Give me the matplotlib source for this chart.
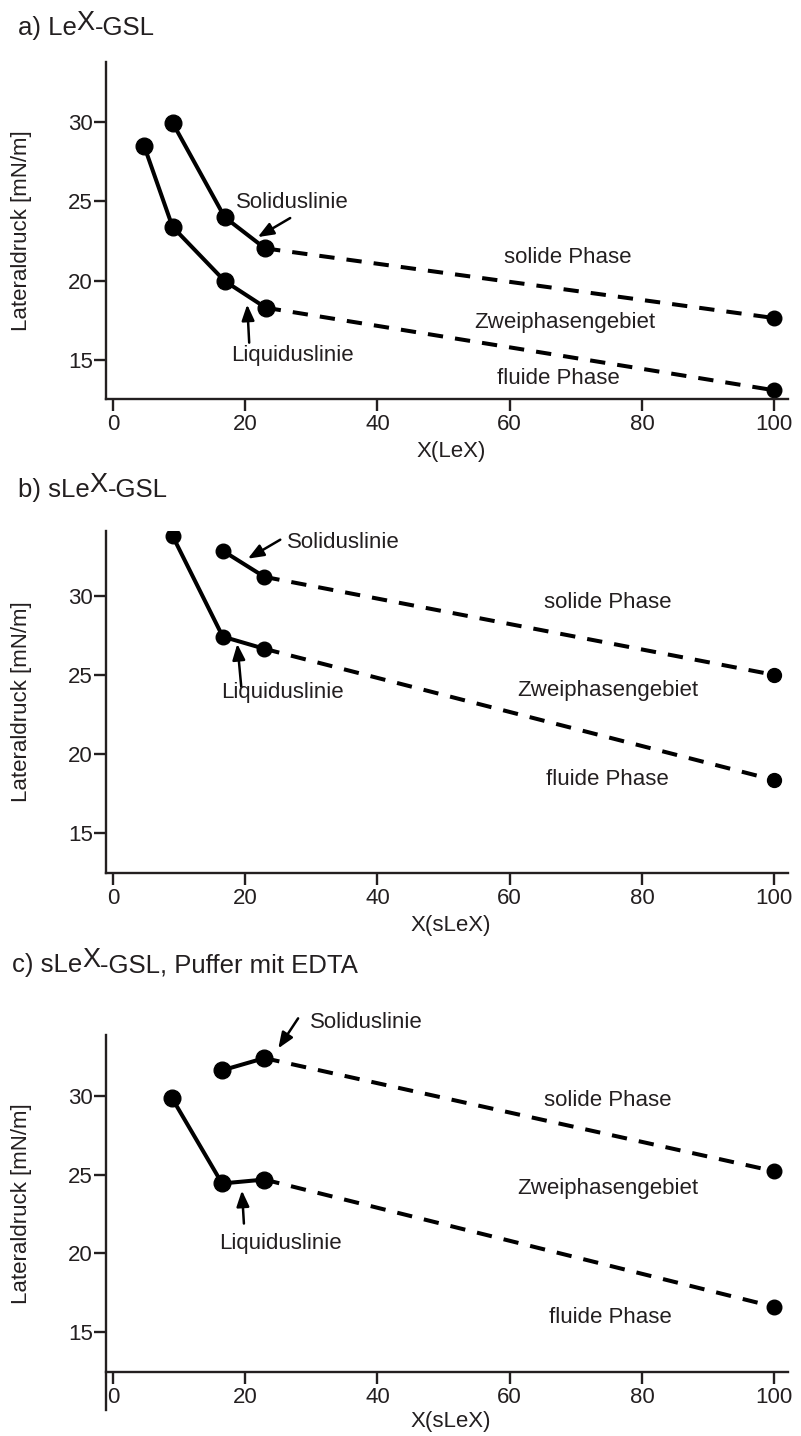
import matplotlib
matplotlib.use('Agg')
import matplotlib.pyplot as plt

plt.rcParams['font.family'] = ['Liberation Sans', 'DejaVu Sans']

TXT = '#231f20'
W, H = 801, 1436

# panel a) LeX-GSL
a_sol_x = [9.0, 16.9, 23.0]
a_sol_y = [29.96, 24.0, 22.04]
a_liq_x = [4.7, 9.0, 16.9, 23.1]
a_liq_y = [28.5, 23.4, 19.98, 18.3]
a_end_x = 100
a_sol_end = 17.65
a_liq_end = 13.1

# panel b) sLeX-GSL
b_sol_x = [16.6, 22.9]
b_sol_y = [32.85, 31.2]
b_liq_x = [9.0, 16.6, 22.9]
b_liq_y = [33.8, 27.42, 26.65]
b_end_x = 100
b_sol_end = 25.0
b_liq_end = 18.35

# panel c) sLeX-GSL, Puffer mit EDTA
c_sol_x = [16.5, 22.9]
c_sol_y = [31.65, 32.43]
c_liq_x = [8.9, 16.5, 22.9]
c_liq_y = [29.9, 24.45, 24.7]
c_end_x = 100
c_sol_end = 25.23
c_liq_end = 16.6

xticks = [0, 20, 40, 60, 80, 100]
yticks = [15, 20, 25, 30]

fig = plt.figure(figsize=(W / 100, H / 100), dpi=100)


def px_axes(left, right, top, bottom):
    return fig.add_axes([left / W, 1 - bottom / H, (right - left) / W, (bottom - top) / H])


def title(x_px, base_px, parts, size=18.5):
    r = fig.canvas.get_renderer()
    x = x_px
    for s, rise, fs in parts:
        t = fig.text(x / W, 1 - (base_px - rise) / H, s, fontsize=fs or size,
                     va='baseline', ha='left', color=TXT)
        x += t.get_window_extent(r).width


def setup(ax, ylim, xlabel, top_px, bottom_px, xlab_px):
    ax.set_xlim(-1.06, 102.1)
    ax.set_ylim(*ylim)
    for s in ['top', 'right']:
        ax.spines[s].set_visible(False)
    for s in ['left', 'bottom']:
        ax.spines[s].set_linewidth(1.7)
        ax.spines[s].set_color(TXT)
    ax.set_xticks(xticks)
    ax.set_yticks(yticks)
    ax.tick_params(axis='both', direction='out', length=8.5, width=1.7,
                   color=TXT, labelcolor=TXT, labelsize=16)
    ax.tick_params(axis='y', pad=0.8)
    ax.tick_params(axis='x', pad=2)
    ax.set_ylabel('Lateraldruck [mN/m]', fontsize=16, color=TXT, va='center')
    ax.yaxis.set_label_coords((22 - 106) / 682, 0.5)
    ax.set_xlabel(xlabel, fontsize=16, color=TXT, va='center')
    ax.xaxis.set_label_coords(0.506, -(xlab_px - bottom_px) / (bottom_px - top_px))


def draw(ax, sx, sy, lx, ly, ex, se, le, ms, ms_end):
    kw = dict(color='black', lw=2.9, marker='o', ms=ms, solid_capstyle='round')
    ax.plot(sx, sy, **kw)
    ax.plot(lx, ly, **kw)
    dkw = dict(color='black', lw=2.9, dashes=(3.8, 3.0))
    ax.plot([sx[-1], ex], [sy[-1], se], **dkw)
    ax.plot([lx[-1], ex], [ly[-1], le], **dkw)
    ax.plot([ex, ex], [se, le], ls='none', marker='o', ms=ms_end, color='black')


def arrow(ax, tip, tail):
    ax.annotate('', xy=tip, xytext=tail,
                arrowprops=dict(arrowstyle='-|>,head_length=0.95,head_width=0.38',
                                lw=1.8, color='black', shrinkA=0, shrinkB=0))


def label(ax, x, y, s, ha='center'):
    ax.text(x, y, s, fontsize=16, color=TXT, ha=ha, va='center')


# ---- a
ax = px_axes(106, 788, 62, 399)
setup(ax, (12.55, 33.78), 'X(LeX)', 62, 399, 452)
draw(ax, a_sol_x, a_sol_y, a_liq_x, a_liq_y, a_end_x, a_sol_end, a_liq_end, 12, 10.5)
arrow(ax, (21.9, 22.75), (26.8, 23.95))
arrow(ax, (20.3, 18.5), (20.6, 16.1))
label(ax, 27.1, 24.9, 'Soliduslinie')
label(ax, 27.1, 15.3, 'Liquiduslinie')
label(ax, 68.8, 21.45, 'solide Phase')
label(ax, 68.3, 17.35, 'Zweiphasengebiet')
label(ax, 67.3, 13.85, 'fluide Phase')
title(18, 35, [('a) Le', 0, None), ('X', 5, 19.5), ('-GSL', 0, None)])

# ---- b
ax = px_axes(106, 788, 531, 873)
setup(ax, (12.47, 34.1), 'X(sLeX)', 531, 873, 925)
draw(ax, b_sol_x, b_sol_y, b_liq_x, b_liq_y, b_end_x, b_sol_end, b_liq_end, 10.5, 10)
arrow(ax, (20.4, 32.35), (25.3, 33.55))
arrow(ax, (18.8, 26.96), (19.4, 24.25))
label(ax, 26.3, 33.4, 'Soliduslinie', ha='left')
label(ax, 25.7, 23.86, 'Liquiduslinie')
label(ax, 74.8, 29.6, 'solide Phase')
label(ax, 74.8, 24.0, 'Zweiphasengebiet')
label(ax, 74.8, 18.4, 'fluide Phase')
title(18, 497, [('b) sLe', 0, None), ('X', 5, 19.5), ('-GSL', 0, None)])

# ---- c
ax = px_axes(106, 788, 1035, 1372)
setup(ax, (12.45, 33.9), 'X(sLeX)', 1035, 1372, 1422)
ax.spines['left'].set_bounds(10.04, 33.9)
draw(ax, c_sol_x, c_sol_y, c_liq_x, c_liq_y, c_end_x, c_sol_end, c_liq_end, 12, 10.5)
arrow(ax, (25.0, 33.05), (28.0, 34.96))
arrow(ax, (19.5, 24.0), (19.8, 21.9))
label(ax, 29.8, 34.7, 'Soliduslinie', ha='left')
label(ax, 25.4, 20.65, 'Liquiduslinie')
label(ax, 74.8, 29.75, 'solide Phase')
label(ax, 74.8, 24.1, 'Zweiphasengebiet')
label(ax, 75.2, 15.9, 'fluide Phase')
title(12, 972, [('c) sLe', 0, None), ('X', 5, 19.5), ('-GSL, Puffer mit EDTA', 0, None)])

fig.savefig('out.png', dpi=100)
